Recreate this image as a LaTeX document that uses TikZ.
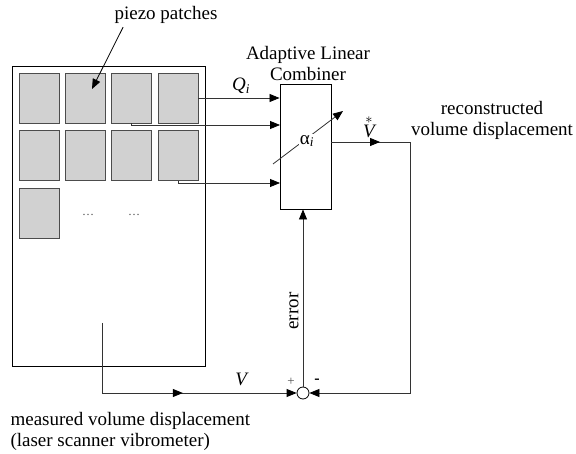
\documentclass[tikz,border=0pt]{standalone}
\usepackage{fontspec}
\setmainfont{Liberation Serif}
\usetikzlibrary{arrows.meta,calc,decorations.markings}

\tikzset{
  patch/.style={draw=black!70, fill=black!18, line width=0.8pt, minimum width=40pt, minimum height=50pt, inner sep=0pt},
  wire/.style={draw=black!80, line width=0.8pt},
  tip/.style={-{Triangle[length=10pt,width=8pt,color=black]}},
  midarrow/.style={postaction=decorate, decoration={markings, mark=at position #1 with {\arrow{Triangle[length=10pt,width=8pt,color=black]}}}}
}

\begin{document}
\begin{tikzpicture}[x=1pt, y=-1pt, every node/.style={font=\fontsize{19}{22}\selectfont}]
  \useasboundingbox (0,0) rectangle (576,454);
  % plate with the piezo patches
  \node[draw, line width=1pt, minimum width=193pt, minimum height=300pt, inner sep=0pt] (plate) at (108.5,217) {};
  \foreach \n/\x/\y in {1/39/98, 2/85/98, 3/131/98, 4/178/98, 5/39/155.5, 6/85/155.5, 7/131/155.5, 8/178/155.5, 9/39/213}
    \node[patch] (p\n) at (\x,\y) {};
  \node[font=\fontsize{12}{14}\selectfont, text=black!70] (dotsa) at (88,215) {\ldots};
  \node[font=\fontsize{12}{14}\selectfont, text=black!70] (dotsb) at (134,215) {\ldots};
  \node (piezo) at (166,15) {piezo patches};
  \coordinate (ptip) at (92,89);
  \draw[line width=0.8pt, tip] ($(piezo.south west)!0.11!(piezo.south east)$) -- (ptip);

  % adaptive linear combiner
  \node[draw, line width=0.9pt, minimum width=51pt, minimum height=125pt, inner sep=0pt] (alc) at (305.5,146.5) {};
  \node[align=center] (alclbl) at (308,64) {Adaptive Linear\\[-1pt]Combiner};
  \node[circle, draw, line width=0.8pt, minimum size=12pt, inner sep=0pt] (sum) at (303,393) {};

  % inputs
  \coordinate (in2) at (280,125);
  \coordinate (in3) at (280,183);
  \draw[wire, tip] (p4.east) -- (p4.east -| alc.west);
  \node (qlbl) at (241,86) {\textit{Q}\textsubscript{\textit{i}}};
  \draw[wire, tip] (p3.south) |- (in2);
  \draw[wire, tip] (p8.south) |- (in3);

  % adjustable weights
  \coordinate (wa) at (273,164);
  \coordinate (wb) at (343,111);
  \draw[wire, tip] (wa) -- (wb);
  \node[fill=white, inner sep=1pt] (alpha) at (307,141) {α\textsubscript{\textit{i}}};

  % output and feedback
  \coordinate (corner) at (410,142);
  \draw[wire, tip, midarrow=0.113] (corner -| alc.east) -- (corner) |- (sum.east);
  \node (vhat) at (369,127) {$\stackrel{*}{\textit{V}}$};
  \node[align=center] (recon) at (492,120) {reconstructed\\[-1pt]volume displacement};

  % measured signal and error
  \coordinate (vstart) at (102,323);
  \draw[wire, tip, midarrow=0.57] (vstart) |- (sum.west);
  \node (vlbl) at (242,379) {\textit{V}};
  \draw[wire, tip] (sum.north) -- (sum.north |- alc.south);
  \node[rotate=90] (err) at (294,311) {error};
  \node[font=\fontsize{13}{15}\selectfont, text=black!70] (plus) at (291,382) {+};
  \node[font=\fontsize{16}{18}\selectfont\bfseries] (minus) at (317,381) {-};
  \node[align=left, anchor=west] (meas) at (7,431) {measured volume displacement\\[-1pt](laser scanner vibrometer)};
\end{tikzpicture}
\end{document}
